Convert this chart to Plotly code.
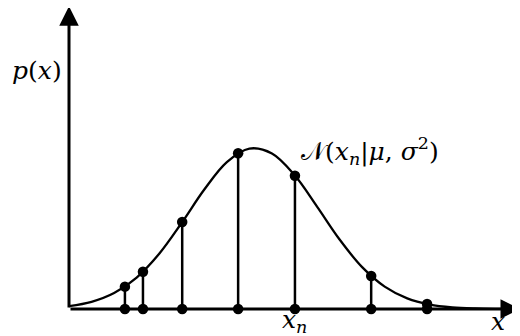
import plotly.graph_objects as go

# curve N(x|mu, sigma^2) (axis units)
curve_x = [0, 0.5, 1.0, 1.5, 2.0, 2.5, 3.0, 3.5, 4.0, 4.5, 5.0,
           5.5, 6.0, 6.5, 7.0, 7.5, 8.0, 8.5, 9.0, 9.5, 10.0]
curve_y = [0.0049, 0.0123, 0.0274, 0.0542, 0.0951, 0.1484, 0.2056, 0.2528, 0.2761, 0.2676, 0.2304,
           0.1761, 0.1195, 0.0720, 0.0385, 0.0183, 0.0077, 0.0029, 0.0010, 0.0003, 0.0001]

# data points x_n and their densities
pts_x = [1.24, 1.64, 2.51, 3.75, 5.01, 6.70, 7.94]
pts_y = [0.0385, 0.0641, 0.1496, 0.268, 0.2294, 0.0569, 0.0086]

FONT = "DejaVu Serif"
INK = "black"
YTOP = 0.518

fig = go.Figure()

# stems from the axis up to the curve
stem_x, stem_y = [], []
for xv, yv in zip(pts_x, pts_y):
    stem_x += [xv, xv, None]
    stem_y += [0, yv, None]
fig.add_trace(go.Scatter(x=stem_x, y=stem_y, mode="lines",
                         line=dict(color=INK, width=2.5), cliponaxis=False))

fig.add_trace(go.Scatter(x=curve_x, y=curve_y, mode="lines", line_shape="spline",
                         line=dict(color=INK, width=2.3), cliponaxis=False))

# dots on the axis and on the curve
fig.add_trace(go.Scatter(x=pts_x + pts_x, y=[0] * len(pts_x) + pts_y, mode="markers",
                         marker=dict(color=INK, size=10.5), cliponaxis=False))

# axes as arrows
fig.add_annotation(x=10, y=0, ax=0, ay=0, xref="x", yref="y", axref="x", ayref="y",
                   text="", showarrow=True, arrowhead=2, arrowsize=1.3, arrowwidth=3, arrowcolor=INK)
fig.add_annotation(x=0, y=0.521, ax=0, ay=0, xref="x", yref="y", axref="x", ayref="y",
                   text="", showarrow=True, arrowhead=2, arrowsize=1.3, arrowwidth=3, arrowcolor=INK)

# labels outside the data range go in paper coords
labels = [
    (-0.071, 0.794, "<i>p</i>(<i>x</i>)", "center", "paper"),
    (0.951, -0.040, "<i>x</i>", "center", "paper"),
    (0.499, -0.040, "<i>x<sub>n</sub></i>", "center", "paper"),
    (5.1, 0.272, "𝒩(<i>x<sub>n</sub></i>|<i>μ</i>, <i>σ</i><sup>2</sup>)", "left", "x"),
]
for lx, ly, txt, anc, ref in labels:
    fig.add_annotation(x=lx, y=ly, xref=ref, yref="paper" if ref == "paper" else "y",
                       text=txt, showarrow=False, xanchor=anc, yanchor="middle",
                       font=dict(family=FONT, size=25, color=INK))

fig.update_xaxes(range=[0, 10], visible=False)
fig.update_yaxes(range=[0, YTOP], visible=False)
fig.update_layout(width=512, height=328, showlegend=False,
                  margin=dict(l=61, r=0, t=0, b=27),
                  plot_bgcolor="white", paper_bgcolor="white")

fig.write_html("out.html")
